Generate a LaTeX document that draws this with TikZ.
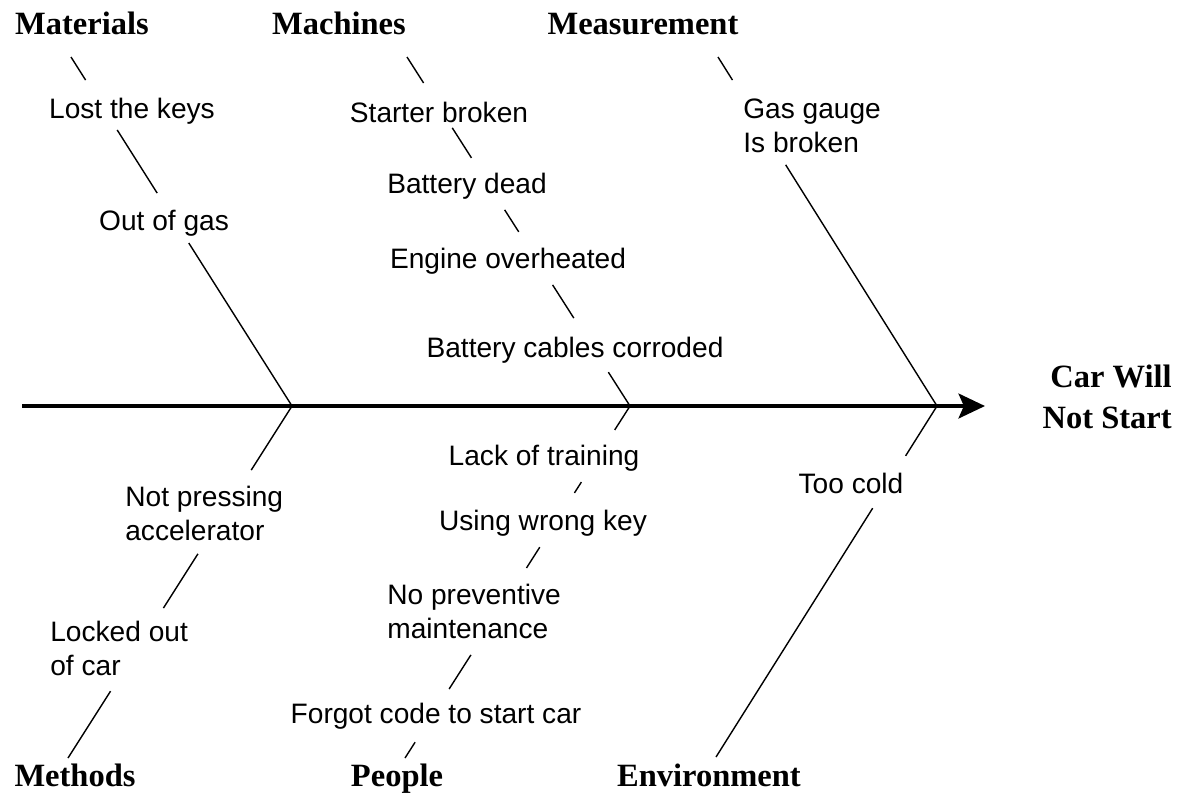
\documentclass[tikz,border=0pt]{standalone}
\usepackage{fontspec}
\setmainfont{Liberation Serif}
\newfontfamily\arialf{Liberation Sans}
\usetikzlibrary{calc,arrows.meta}
\newcommand\bseg[4]{\draw[bone] ($(#1)!#3!(#2)$) -- ($(#1)!#4!(#2)$);}
\tikzset{
  cat/.style={font=\fontsize{18.5}{22}\selectfont\bfseries, inner sep=0pt, anchor=base},
  cause/.style={font=\arialf\fontsize{16}{19}\selectfont, inner sep=0pt, anchor=base},
  cause2/.style={font=\arialf\fontsize{16}{19}\selectfont, inner sep=0pt, anchor=north west, align=left},
  bone/.style={line width=0.8pt, black},
  spine/.style={line width=2.6pt, black, -{Stealth[length=15pt,width=14pt,inset=3pt]}}
}
\begin{document}
\begin{tikzpicture}[x=0.02cm,y=-0.02cm]
\useasboundingbox (0,0) rectangle (1183,796);
% categories
\node[cat] (materials) at (82,34) {Materials};
\node[cat] (machines) at (339,34) {Machines};
\node[cat] (measure) at (643,34) {Measurement};
\node[cat] (methods) at (75,786) {Methods};
\node[cat] (people) at (397,786) {People};
\node[cat] (environ) at (709,786) {Environment};
\node[font=\fontsize{18.5}{23}\selectfont\bfseries, inner sep=0pt, align=right, anchor=east] (effect) at (1172,397) {Car Will\\Not Start};
% spine
\coordinate (spineL) at (22,406);
\coordinate (spineR) at (985,406);
\draw[spine] (spineL) -- (spineR);
% bone end points
\coordinate (matT) at (71,57);
\coordinate (junA) at (292,406);
\coordinate (macT) at (407,57);
\coordinate (junB) at (630,406);
\coordinate (meaT) at (718,57);
\coordinate (junC) at (937,406);
\coordinate (metB) at (68,758);
\coordinate (peoB) at (405,758);
\coordinate (envB) at (716,757);
% causes
\node[cause] (lostkeys) at (132,118) {Lost the keys};
\node[cause] (outgas) at (164,230) {Out of gas};
\node[cause] (starter) at (439,122) {Starter broken};
\node[cause] (battdead) at (467,193) {Battery dead};
\node[cause] (engine) at (508,268) {Engine overheated};
\node[cause] (cables) at (575,357) {Battery cables corroded};
\node[cause2] (gauge) at (743,99) {Gas gauge\\Is broken};
\node[cause2] (pressing) at (125,486) {Not pressing\\accelerator};
\node[cause2] (locked) at (50,621) {Locked out\\of car};
\node[cause] (training) at (544,465) {Lack of training};
\node[cause] (wrongkey) at (543,530) {Using wrong key};
\node[cause2] (preventive) at (387,584) {No preventive\\maintenance};
\node[cause] (forgot) at (436,723) {Forgot code to start car};
\node[cause] (cold) at (851,493) {Too cold};
% Materials bone
\bseg{matT}{junA}{0}{0.066}
\bseg{matT}{junA}{0.209}{0.390}
\bseg{matT}{junA}{0.533}{1}
% Machines bone
\bseg{macT}{junB}{0}{0.0745}
\bseg{macT}{junB}{0.203}{0.289}
\bseg{macT}{junB}{0.438}{0.501}
\bseg{macT}{junB}{0.653}{0.748}
\bseg{macT}{junB}{0.903}{1}
% Measurement bone
\bseg{meaT}{junC}{0}{0.066}
\bseg{meaT}{junC}{0.309}{1}
% Methods bone
\bseg{junA}{metB}{0}{0.182}
\bseg{junA}{metB}{0.420}{0.574}
\bseg{junA}{metB}{0.810}{1}
% People bone
\bseg{junB}{peoB}{0}{0.068}
\bseg{junB}{peoB}{0.216}{0.247}
\bseg{junB}{peoB}{0.401}{0.460}
\bseg{junB}{peoB}{0.707}{0.804}
\bseg{junB}{peoB}{0.955}{1}
% Environment bone
\bseg{junC}{envB}{0}{0.142}
\bseg{junC}{envB}{0.291}{1}
\end{tikzpicture}
\end{document}
